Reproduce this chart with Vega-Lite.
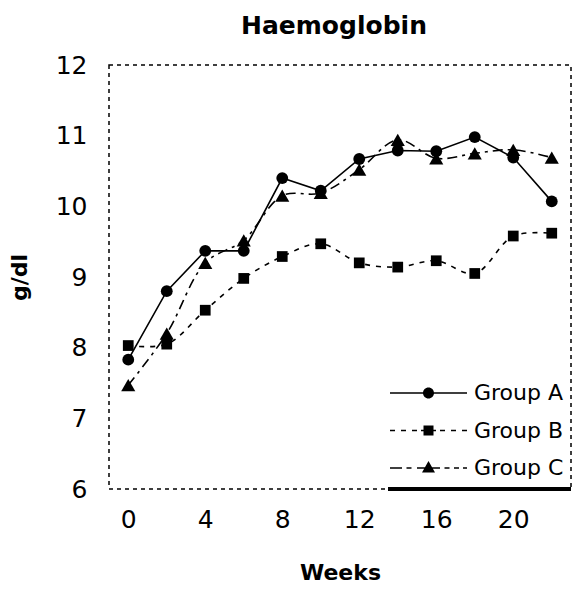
{
  "$schema": "https://vega.github.io/schema/vega-lite/v6.json",
  "autosize": {"type": "none"},
  "padding": {"left": 109, "top": 65, "right": 2, "bottom": 102},
  "width": 462,
  "height": 424,
  "background": "white",
  "title": {"text": "Haemoglobin", "font": "DejaVu Sans", "fontSize": 25, "fontWeight": "bold", "color": "black", "offset": 14, "dx": -6},
  "config": {
    "view": {"stroke": "black", "strokeDash": [4, 4], "strokeWidth": 1.5},
    "axis": {"domain": false, "ticks": false, "grid": false, "labelFont": "DejaVu Sans", "labelFontSize": 25, "labelColor": "black", "titleFont": "DejaVu Sans", "titleFontSize": 22, "titleFontWeight": "bold", "titleColor": "black"},
    "legend": {"labelFont": "DejaVu Sans", "labelFontSize": 22, "labelColor": "black"}
  },
  "data": {"values": [
    {"week": 0, "group": "Group A", "hb": 7.83},
    {"week": 2, "group": "Group A", "hb": 8.80},
    {"week": 4, "group": "Group A", "hb": 9.37},
    {"week": 6, "group": "Group A", "hb": 9.37},
    {"week": 8, "group": "Group A", "hb": 10.40},
    {"week": 10, "group": "Group A", "hb": 10.22},
    {"week": 12, "group": "Group A", "hb": 10.67},
    {"week": 14, "group": "Group A", "hb": 10.79},
    {"week": 16, "group": "Group A", "hb": 10.78},
    {"week": 18, "group": "Group A", "hb": 10.98},
    {"week": 20, "group": "Group A", "hb": 10.69},
    {"week": 22, "group": "Group A", "hb": 10.07},
    {"week": 0, "group": "Group B", "hb": 8.03},
    {"week": 2, "group": "Group B", "hb": 8.05},
    {"week": 4, "group": "Group B", "hb": 8.53},
    {"week": 6, "group": "Group B", "hb": 8.98},
    {"week": 8, "group": "Group B", "hb": 9.29},
    {"week": 10, "group": "Group B", "hb": 9.47},
    {"week": 12, "group": "Group B", "hb": 9.20},
    {"week": 14, "group": "Group B", "hb": 9.14},
    {"week": 16, "group": "Group B", "hb": 9.23},
    {"week": 18, "group": "Group B", "hb": 9.05},
    {"week": 20, "group": "Group B", "hb": 9.58},
    {"week": 22, "group": "Group B", "hb": 9.62},
    {"week": 0, "group": "Group C", "hb": 7.47},
    {"week": 2, "group": "Group C", "hb": 8.20},
    {"week": 4, "group": "Group C", "hb": 9.20},
    {"week": 6, "group": "Group C", "hb": 9.52},
    {"week": 8, "group": "Group C", "hb": 10.15},
    {"week": 10, "group": "Group C", "hb": 10.19},
    {"week": 12, "group": "Group C", "hb": 10.52},
    {"week": 14, "group": "Group C", "hb": 10.94},
    {"week": 16, "group": "Group C", "hb": 10.68},
    {"week": 18, "group": "Group C", "hb": 10.75},
    {"week": 20, "group": "Group C", "hb": 10.80},
    {"week": 22, "group": "Group C", "hb": 10.69}
  ]},
  "encoding": {
    "x": {"field": "week", "type": "quantitative", "scale": {"domain": [-1, 23], "nice": false, "zero": false},
          "axis": {"values": [0, 4, 8, 12, 16, 20], "title": "Weeks", "labelPadding": 18, "titlePadding": 30}},
    "y": {"field": "hb", "type": "quantitative", "scale": {"domain": [6, 12], "nice": false, "zero": false},
          "axis": {"values": [6, 7, 8, 9, 10, 11, 12], "title": "g/dl", "labelPadding": 22, "titlePadding": 24}}
  },
  "layer": [
    {"transform": [{"filter": "datum.group === 'Group A'"}],
     "mark": {"type": "line", "color": "black", "strokeWidth": 1.6}},
    {"transform": [{"filter": "datum.group === 'Group B'"}],
     "mark": {"type": "line", "color": "black", "strokeWidth": 1.6, "strokeDash": [5, 6], "interpolate": "catmull-rom"}},
    {"transform": [{"filter": "datum.group === 'Group C'"}],
     "mark": {"type": "line", "color": "black", "strokeWidth": 1.6, "strokeDash": [10, 5, 3, 5], "interpolate": "catmull-rom"}},
    {"transform": [{"filter": "datum.group === 'Group A'"}],
     "mark": {"type": "point", "shape": "circle", "filled": true, "color": "black", "opacity": 1, "size": 140}},
    {"transform": [{"filter": "datum.group === 'Group B'"}],
     "mark": {"type": "point", "shape": "square", "filled": true, "color": "black", "opacity": 1, "size": 115}},
    {"transform": [{"filter": "datum.group === 'Group C'"}],
     "mark": {"type": "point", "shape": "triangle-up", "filled": true, "color": "black", "opacity": 1, "size": 200}},
    {"transform": [{"filter": "datum.week < -5"}],
     "mark": {"type": "point", "filled": true, "color": "black"},
     "encoding": {
       "shape": {"field": "group", "type": "nominal",
         "scale": {"domain": ["Group A", "Group B", "Group C"],
                   "range": [
                     "M-1,-0.14L14.4,-0.14L14.4,0.14L-1,0.14ZM5.6,0C5.6,-0.61 6.09,-1.1 6.7,-1.1C7.31,-1.1 7.8,-0.61 7.8,0C7.8,0.61 7.31,1.1 6.7,1.1C6.09,1.1 5.6,0.61 5.6,0Z",
                     "M-1,-0.14L0,-0.14L0,0.14L-1,0.14ZM1.2,-0.14L2.2,-0.14L2.2,0.14L1.2,0.14ZM3.4,-0.14L4.4,-0.14L4.4,0.14L3.4,0.14ZM5.2,-0.14L8.2,-0.14L8.2,0.14L5.2,0.14ZM9,-0.14L10,-0.14L10,0.14L9,0.14ZM11.2,-0.14L12.2,-0.14L12.2,0.14L11.2,0.14ZM13.4,-0.14L14.4,-0.14L14.4,0.14L13.4,0.14ZM5.7,-1L7.7,-1L7.7,1L5.7,1Z",
                     "M-1,-0.14L1.4,-0.14L1.4,0.14L-1,0.14ZM2.3,-0.14L3.3,-0.14L3.3,0.14L2.3,0.14ZM4.4,-0.14L9,-0.14L9,0.14L4.4,0.14ZM9.9,-0.14L10.9,-0.14L10.9,0.14L9.9,0.14ZM11.8,-0.14L12.8,-0.14L12.8,0.14L11.8,0.14ZM13.6,-0.14L14.4,-0.14L14.4,0.14L13.6,0.14ZM6.7,-1.4L8.0,0.9L5.4,0.9Z"
                   ]},
         "legend": {"title": null, "orient": "none", "legendX": 275, "legendY": 317, "padding": 0,
                    "symbolSize": 100, "labelOffset": 68, "rowPadding": 15.5,
                    "symbolOpacity": 1, "symbolFillColor": "black"}}
     }},
    {"mark": {"type": "rule", "color": "black", "strokeWidth": 3.5},
     "encoding": {"x": {"datum": 13.5}, "x2": {"datum": 23}, "y": {"datum": 6}}}
  ]
}
